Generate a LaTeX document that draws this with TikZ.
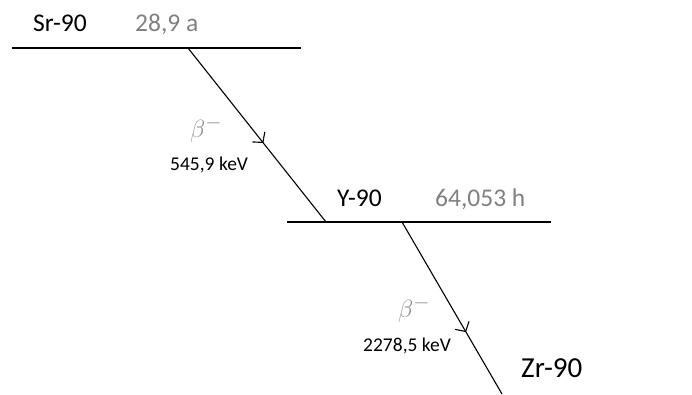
\documentclass[tikz,border=0pt]{standalone}
\usepackage{fontspec}
\setmainfont{Carlito}
\usetikzlibrary{arrows.meta,decorations.markings}
\tikzset{
  level/.style={line width=1.2pt},
  decay/.style={line width=1.1pt, postaction={decorate}, decoration={markings, mark=at position #1 with {\arrow[line width=1.1pt]{Straight Barb[length=7pt,width=16pt]}}}},
  nuc/.style={inner sep=0pt, anchor=base west, font=\fontsize{25.5}{30}\selectfont},
  half/.style={nuc, text=gray},
  en/.style={inner sep=0pt, anchor=base west, font=\fontsize{19.5}{23}\selectfont},
  beta/.style={inner sep=0pt, text=black!45, font=\fontsize{28}{32}\selectfont},
}
\begin{document}
\begin{tikzpicture}[x=1pt,y=-1pt]
\useasboundingbox (0,0) rectangle (692,394);
\coordinate (srL) at (12,48);
\coordinate (srR) at (301,48);
\coordinate (srD) at (188,48);
\coordinate (yU) at (326,222);
\coordinate (yL) at (287,222);
\coordinate (yR) at (551,222);
\coordinate (yD) at (402,222);
\coordinate (zrE) at (502,394);
\draw[level] (srL) -- (srR);
\draw[level] (yL) -- (yR);
\draw[decay=0.546] (srD) -- (yU);
\draw[decay=0.64] (yD) -- (zrE);
\node[nuc] (sr) at (33,31) {Sr-90};
\node[half] (srt) at (135,31) {28,9 a};
\node[nuc] (y) at (337,206) {Y-90};
\node[half] (yt) at (435,206) {64,053 h};
\node[nuc, font=\fontsize{29}{34}\selectfont] (zr) at (521,377) {Zr-90};
\node[beta] (b1) at (206,129) {$\beta^-$};
\node[en] (e1) at (170,170) {545,9 keV};
\node[beta] (b2) at (414,309) {$\beta^-$};
\node[en] (e2) at (363,351) {2278,5 keV};
\end{tikzpicture}
\end{document}
